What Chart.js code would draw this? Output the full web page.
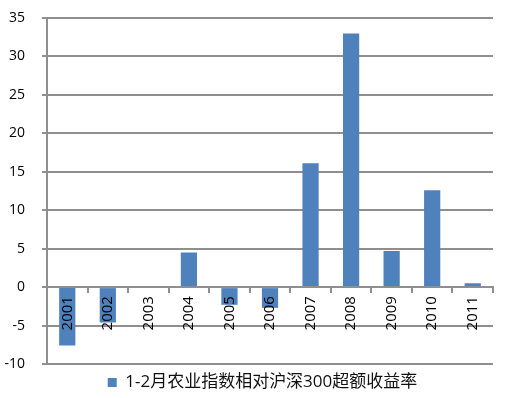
<!DOCTYPE html>
<html>
<head>
<meta charset="utf-8">
<script src="https://cdn.jsdelivr.net/npm/chart.js@4.4.1/dist/chart.umd.min.js"></script>
<style>
  html, body { margin: 0; padding: 0; background: #fff; }
  #wrap { width: 515px; height: 398px; position: relative; }
</style>
</head>
<body>
<div id="wrap"><canvas id="excessChart"></canvas></div>
<script>
// data
const years = ['2001', '2002', '2003', '2004', '2005', '2006', '2007', '2008', '2009', '2010', '2011'];
const excessReturn = [-7.6, -4.6, 0, 4.5, -2.3, -2.7, 16.1, 33.0, 4.7, 12.6, 0.5];
const seriesName = '1-2月农业指数相对沪深300超额收益率';
const yMin = -10;
const yMax = 35;
const yStep = 5;

const gridGray = '#8f8f8f';
const fontFamily = "'Open Sans', 'Noto Sans CJK SC', sans-serif";

// legend in the original sits a bit right of the plot centre
const nudgeLegend = {
  id: 'nudgeLegend',
  afterLayout(chart) {
    const lg = chart.legend;
    if (lg) {
      lg.left += 16;
      lg.right += 16;
    }
  }
};

new Chart(document.getElementById('excessChart'), {
  type: 'bar',
  data: {
    labels: years,
    datasets: [{
      label: seriesName,
      data: excessReturn,
      backgroundColor: '#4f81bd',
      borderWidth: 0,
      barPercentage: 0.4,
      categoryPercentage: 1
    }]
  },
  options: {
    responsive: true,
    maintainAspectRatio: false,
    animation: false,
    layout: { padding: { left: 0, right: 22, top: 18, bottom: -3 } },
    plugins: {
      tooltip: { enabled: false },
      legend: {
        position: 'bottom',
        labels: {
          boxWidth: 9,
          boxHeight: 9,
          padding: 10,
          color: '#111',
          font: { family: fontFamily, size: 17 }
        }
      }
    },
    scales: {
      x: {
        position: { y: 0 },
        grid: {
          display: true,
          drawOnChartArea: false,
          drawTicks: true,
          tickLength: 5,
          offset: true,
          color: gridGray,
          lineWidth: 2
        },
        border: { color: gridGray, width: 2 },
        ticks: {
          z: 1,
          minRotation: 90,
          maxRotation: 90,
          padding: 4,
          color: '#000',
          font: { family: fontFamily, size: 15 }
        }
      },
      y: {
        min: yMin,
        max: yMax,
        afterFit: scale => {
          // fixed axis width; keep the tick padding from pushing the plot down
          scale.width = 47;
          scale.paddingTop = 8;
          scale.paddingBottom = 8;
        },
        grid: {
          color: gridGray,
          lineWidth: 2,
          tickLength: 5
        },
        border: { color: gridGray, width: 2 },
        ticks: {
          stepSize: yStep,
          padding: 17,
          color: '#000',
          font: { family: fontFamily, size: 14 }
        }
      }
    }
  },
  plugins: [nudgeLegend]
});
</script>
</body>
</html>
